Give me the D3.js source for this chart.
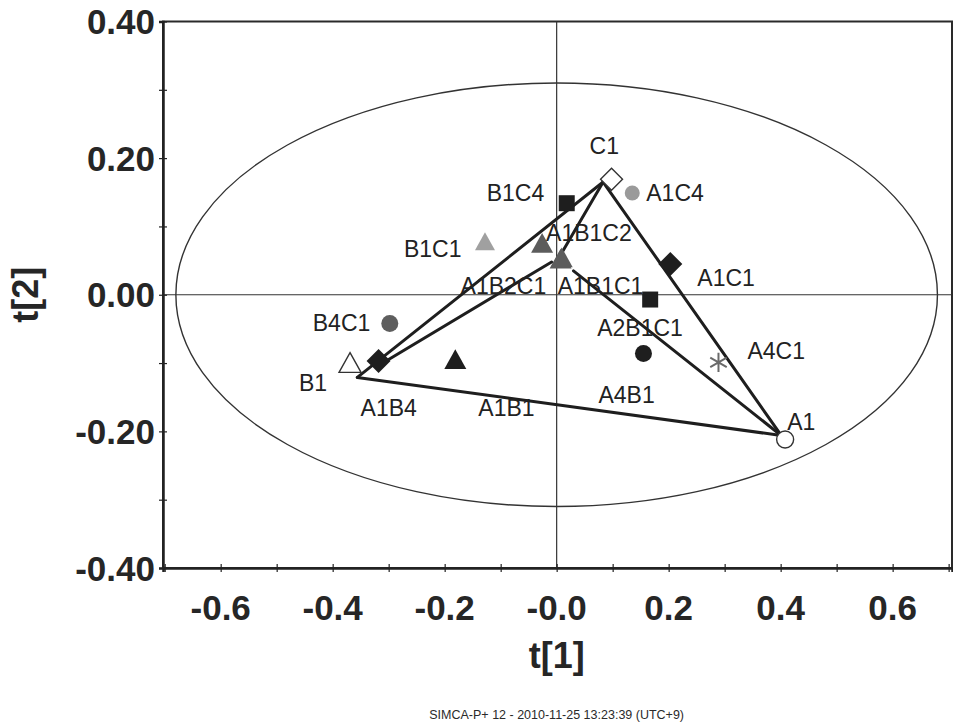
<!DOCTYPE html>
<html>
<head>
<meta charset="utf-8">
<script src="https://cdn.jsdelivr.net/npm/d3@7/dist/d3.min.js"></script>
<style>
  html, body { margin: 0; padding: 0; background: #fff; }
  svg { display: block; }
</style>
</head>
<body>
<svg id="chart" width="953" height="726"></svg>
<script>
// PCA score plot, t[1] vs t[2]
const names = ["C1", "A1C4", "B1C4", "A1B1C2", "B1C1", "A1B2C1", "A1B1C1", "A1C1",
               "A2B1C1", "B4C1", "A4C1", "B1", "A1B4", "A1B1", "A4B1", "A1"];
const t1 = [0.098, 0.135, 0.018, -0.026, -0.128, 0.007, 0.009, 0.203,
            0.167, -0.298, 0.289, -0.369, -0.318, -0.181, 0.155, 0.408];
const t2 = [0.169, 0.149, 0.134, 0.071, 0.074, 0.048, 0.050, 0.045,
            -0.007, -0.042, -0.099, -0.104, -0.097, -0.099, -0.086, -0.212];

// connecting segments (t[1], t[2] of both ends)
const linkX1 = [0.083, 0.083, 0.083, -0.009, 0.030, -0.356];
const linkY1 = [0.165, 0.165, 0.165, 0.048, 0.035, -0.121];
const linkX2 = [-0.356, 0.009, 0.401, -0.315, 0.401, 0.401];
const linkY2 = [-0.121, 0.061, -0.206, -0.102, -0.206, -0.206];

// Hotelling T2 ellipse radii
const ellipseR1 = 0.68;
const ellipseR2 = 0.31;

const xTickValues = [-0.6, -0.4, -0.2, 0.0, 0.2, 0.4, 0.6];
const xTickLabels = ["-0.6", "-0.4", "-0.2", "-0.0", "0.2", "0.4", "0.6"];
const yTickValues = [0.4, 0.2, 0.0, -0.2, -0.4];
const yTickLabels = ["0.40", "0.20", "0.00", "-0.20", "-0.40"];
const minorTicks = d3.range(-7, 8).map(i => i / 10);

const svg = d3.select("#chart");
const plotLeft = 163, plotRight = 952, plotTop = 21.5, plotBottom = 568;

const x = d3.scaleLinear().domain([-0.703, 0.706]).range([plotLeft, plotRight]);
const y = d3.scaleLinear().domain([-0.4, 0.4]).range([plotBottom, plotTop]);

const ink = "#1e1e1e";
const font = "'Liberation Sans', Arial, Helvetica, sans-serif";

// marker styles per observation
const markerStyle = {
  "C1":     { type: "diamond",  fill: "#fff",    stroke: "#333", size: 11 },
  "A1C4":   { type: "circle",   fill: "#9a9a9a", stroke: "none", size: 7.5 },
  "B1C4":   { type: "square",   fill: ink,       stroke: "none", size: 8 },
  "A1B1C2": { type: "triangle", fill: "#5c5c5c", stroke: "none", size: 11 },
  "B1C1":   { type: "triangle", fill: "#a0a0a0", stroke: "none", size: 10 },
  "A1B2C1": { type: "triangle", fill: "#5c5c5c", stroke: "none", size: 11 },
  "A1B1C1": { type: "triangle", fill: "#5c5c5c", stroke: "none", size: 11 },
  "A1C1":   { type: "diamond",  fill: ink,       stroke: "none", size: 12 },
  "A2B1C1": { type: "square",   fill: ink,       stroke: "none", size: 8 },
  "B4C1":   { type: "circle",   fill: "#5e5e5e", stroke: "none", size: 8.5 },
  "A4C1":   { type: "asterisk", fill: "none",    stroke: "#6a6a6a", size: 8 },
  "B1":     { type: "triangle", fill: "#fff",    stroke: "#333", size: 11 },
  "A1B4":   { type: "diamond",  fill: ink,       stroke: "none", size: 12 },
  "A1B1":   { type: "triangle", fill: ink,       stroke: "none", size: 11 },
  "A4B1":   { type: "circle",   fill: ink,       stroke: "none", size: 8.5 },
  "A1":     { type: "circle",   fill: "#fff",    stroke: "#333", size: 8.5 }
};

// label offsets relative to the marker centre (start x, baseline y)
const labelOffset = {
  "C1": [-22, -25], "A1C4": [14, 8], "B1C4": [-80, -2], "A1B1C2": [4, -5],
  "B1C1": [-81, 13], "A1B2C1": [-100, 32], "A1B1C1": [-4, 33], "A1C1": [27, 22],
  "A2B1C1": [-53, 36], "B4C1": [-77, 8], "A4C1": [29, -3], "B1": [-51, 25],
  "A1B4": [-18, 55], "A1B1": [23, 54], "A4B1": [-45, 50], "A1": [2, -10]
};

// plot frame
svg.append("rect")
  .attr("x", plotLeft).attr("y", plotTop)
  .attr("width", plotRight - plotLeft).attr("height", plotBottom - plotTop)
  .attr("fill", "none").attr("stroke", "#2a2a2a").attr("stroke-width", 2);

// zero lines
svg.append("line")
  .attr("x1", plotLeft).attr("x2", plotRight).attr("y1", y(0)).attr("y2", y(0))
  .attr("stroke", "#333").attr("stroke-width", 1.2);
svg.append("line")
  .attr("x1", x(0)).attr("x2", x(0)).attr("y1", plotTop).attr("y2", plotBottom)
  .attr("stroke", "#333").attr("stroke-width", 1.2);

// ellipse
svg.append("ellipse")
  .attr("cx", x(0)).attr("cy", y(0))
  .attr("rx", x(ellipseR1) - x(0)).attr("ry", y(0) - y(ellipseR2))
  .attr("fill", "none").attr("stroke", "#333").attr("stroke-width", 1.4);

// axes
const xAxis = svg.append("g").attr("transform", `translate(0,${plotBottom})`)
  .call(d3.axisBottom(x).tickValues(minorTicks).tickSize(4).tickFormat(""));
const yAxis = svg.append("g").attr("transform", `translate(${plotLeft},0)`)
  .call(d3.axisLeft(y).tickValues(d3.range(-4, 5).map(i => i / 10)).tickSize(4).tickFormat(""));
xAxis.select(".domain").attr("stroke", "#222").attr("stroke-width", 2.5);
yAxis.select(".domain").attr("stroke", "#222").attr("stroke-width", 2.5);
xAxis.selectAll(".tick line").attr("y1", -4).attr("y2", 4).attr("stroke", "#222").attr("stroke-width", 1.2);
yAxis.selectAll(".tick line").attr("x1", -4).attr("x2", 4).attr("stroke", "#222").attr("stroke-width", 1.2);

// tick labels
svg.append("g").selectAll("text").data(xTickValues).join("text")
  .attr("x", d => x(d)).attr("y", 620)
  .attr("text-anchor", "middle")
  .attr("font-family", font).attr("font-weight", "bold").attr("font-size", 35)
  .attr("fill", "#262626")
  .text((d, i) => xTickLabels[i]);
svg.append("g").selectAll("text").data(yTickValues).join("text")
  .attr("x", 155).attr("y", d => y(d) + 12.5)
  .attr("text-anchor", "end")
  .attr("font-family", font).attr("font-weight", "bold").attr("font-size", 35)
  .attr("fill", "#262626")
  .text((d, i) => yTickLabels[i]);

// axis titles
svg.append("text")
  .attr("x", x(0)).attr("y", 668)
  .attr("text-anchor", "middle")
  .attr("font-family", font).attr("font-weight", "bold").attr("font-size", 36)
  .attr("fill", "#262626").text("t[1]");
svg.append("text")
  .attr("transform", `translate(38,${y(0)}) rotate(-90)`)
  .attr("text-anchor", "middle")
  .attr("font-family", font).attr("font-weight", "bold").attr("font-size", 36)
  .attr("fill", "#262626").text("t[2]");

// footer
svg.append("text")
  .attr("x", x(0)).attr("y", 719)
  .attr("text-anchor", "middle")
  .attr("font-family", font).attr("font-size", 12.5)
  .attr("fill", "#2a2a2a")
  .text("SIMCA-P+ 12 - 2010-11-25 13:23:39 (UTC+9)");

// connecting segments
svg.append("g").selectAll("line").data(linkX1).join("line")
  .attr("x1", (d, i) => x(linkX1[i])).attr("y1", (d, i) => y(linkY1[i]))
  .attr("x2", (d, i) => x(linkX2[i])).attr("y2", (d, i) => y(linkY2[i]))
  .attr("stroke", ink).attr("stroke-width", 3).attr("stroke-linecap", "round");

// markers
function markerPath(s) {
  if (s.type === "circle") return d3.symbol(d3.symbolCircle, Math.PI * s.size * s.size)();
  if (s.type === "square" || s.type === "diamond") return d3.symbol(d3.symbolSquare, (2 * s.size) * (2 * s.size) * (s.type === "diamond" ? 0.5 : 1))();
  if (s.type === "triangle") {
    const w = s.size * 2, h = s.size * 1.8;
    return `M0,${-h * 2 / 3}L${w / 2},${h / 3}L${-w / 2},${h / 3}Z`;
  }
  if (s.type === "asterisk") return d3.symbol(d3.symbolAsterisk, s.size * s.size * 4)();
  return "";
}

const pts = names.map((n, i) => ({ name: n, t1: t1[i], t2: t2[i] }));
const order = pts.slice().sort((a, b) => (a.name === "A1B2C1" ? -1 : b.name === "A1B2C1" ? 1 : 0));

svg.append("g").selectAll("path").data(order).join("path")
  .attr("d", d => markerPath(markerStyle[d.name]))
  .attr("transform", d => `translate(${x(d.t1)},${y(d.t2)})` + (markerStyle[d.name].type === "diamond" ? " rotate(45)" : ""))
  .attr("fill", d => markerStyle[d.name].fill)
  .attr("stroke", d => markerStyle[d.name].stroke)
  .attr("stroke-width", d => markerStyle[d.name].type === "asterisk" ? 2 : 1.4);

// point labels
svg.append("g").selectAll("text").data(pts).join("text")
  .attr("x", d => x(d.t1) + labelOffset[d.name][0])
  .attr("y", d => y(d.t2) + labelOffset[d.name][1])
  .attr("font-family", font).attr("font-size", 23)
  .attr("fill", "#222")
  .text(d => d.name);
</script>
</body>
</html>
